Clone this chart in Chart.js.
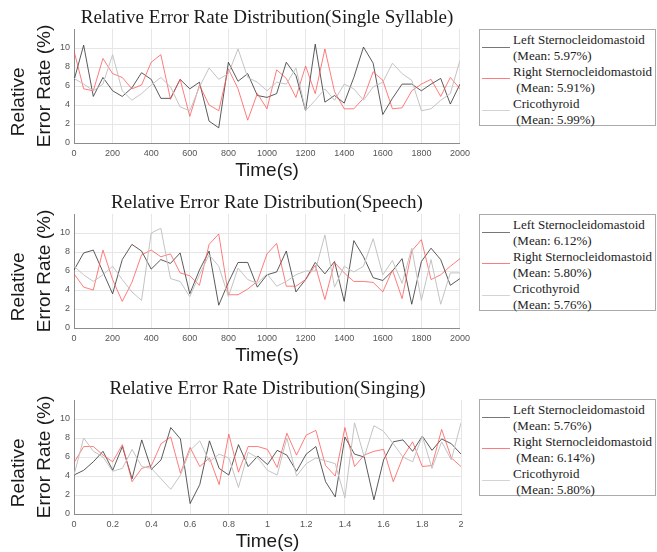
<!DOCTYPE html>
<html><head><meta charset="utf-8">
<script src="https://cdn.jsdelivr.net/npm/chart.js@4.4.1/dist/chart.umd.min.js"></script>
<style>
html,body{margin:0;padding:0;overflow:hidden;background:#fff;width:657px;height:552px;}
canvas{position:absolute;left:0;}
.leg{position:absolute;left:479px;width:175px;height:95px;border:1px solid #aaa;font-family:"Liberation Serif",serif;font-size:13px;color:#222;}
.leg .t{position:absolute;left:33px;white-space:pre;line-height:15.9px;}
.leg .s{position:absolute;left:2px;width:28px;height:0;border-top:1px solid;}
</style></head><body>
<canvas id="c1" width="475" height="185" style="top:0px"></canvas>
<canvas id="c2" width="475" height="185" style="top:185px"></canvas>
<canvas id="c3" width="475" height="185" style="top:371px"></canvas>
<div id="l1" class="leg" style="top:29px"></div>
<div id="l2" class="leg" style="top:214px"></div>
<div id="l3" class="leg" style="top:399px"></div>
<script>
// ---- data ----
const timeSec = [0,50,100,150,200,250,300,350,400,450,500,550,600,650,700,750,800,850,900,950,1000,
  1050,1100,1150,1200,1250,1300,1350,1400,1450,1500,1550,1600,1650,1700,1750,1800,1850,1900,1950,2000];
const timeSing = [0,0.05,0.1,0.15,0.2,0.25,0.3,0.35,0.4,0.45,0.5,0.55,0.6,0.65,0.7,0.75,0.8,0.85,0.9,0.95,1,
  1.05,1.1,1.15,1.2,1.25,1.3,1.35,1.4,1.45,1.5,1.55,1.6,1.65,1.7,1.75,1.8,1.85,1.9,1.95,2];
const yTickValues = [0,2,4,6,8,10];

const seriesNames = ['Left Sternocleidomastoid','Right Sternocleidomastoid','Cricothyroid'];
const titles = ['Relative Error Rate Distribution(Single Syllable)','Relative Error Rate Distribution(Speech)','Relative Error Rate Distribution(Singing)'];

const singleLeft = [6.6,10.3,4.9,6.9,5.5,4.9,5.8,7.4,6.7,4.7,4.7,6.7,5.7,6.4,2.3,1.6,8.5,6.5,7.3,5.0,4.8,
  5.2,8.5,7.1,3.4,10.4,4.3,5.0,4.2,6.9,10.1,8.4,3.0,4.7,6.2,6.2,5.5,6.2,6.8,4.1,6.2];
const singleRight = [9.7,5.7,5.5,8.9,7.3,6.9,5.7,6.1,8.5,9.3,4.6,6.7,2.8,6.1,4.0,3.4,7.8,5.7,2.4,5.2,3.6,
  7.7,6.8,4.8,8.1,5.2,9.9,5.4,3.6,3.6,4.7,7.5,6.6,3.6,3.7,5.5,6.2,6.7,4.9,6.9,5.7];
const singleCrico = [6.8,6.2,5.5,6.2,9.3,5.5,4.5,5.2,6.1,6.9,5.9,3.8,3.4,5.9,7.9,6.7,7.3,9.9,6.9,6.4,5.5,
  6.4,6.2,7.9,3.4,4.5,5.7,4.5,6.2,5.7,4.5,5.9,6.4,8.4,7.3,6.6,3.4,3.6,4.5,5.2,8.7];

const speechLeft = [6.1,7.9,8.2,5.9,3.6,7.2,8.8,8.1,6.2,7.2,6.8,7.9,3.6,6.1,8.1,2.4,4.8,6.9,6.9,4.3,5.6,
  5.9,8.1,3.8,5.1,6.9,5.7,7.0,2.8,9.2,7.5,5.3,5.0,6.0,7.3,2.5,7.0,8.4,7.2,4.5,5.2];
const speechRight = [5.7,4.3,4.0,8.2,5.1,2.8,4.8,7.7,8.2,7.5,7.8,5.8,5.5,4.5,8.8,9.9,3.5,3.5,4.1,4.9,7.8,
  8.9,4.4,4.4,5.1,6.6,3.0,6.9,5.8,4.9,4.9,4.8,3.8,6.1,3.1,8.1,9.3,5.1,5.6,6.5,7.3];
const speechCrico = [6.5,5.6,4.9,5.6,6.5,5.1,3.8,2.9,10.0,10.5,5.2,4.9,3.3,5.6,7.7,6.5,3.3,6.3,5.1,4.7,5.7,
  4.4,4.9,5.6,6.0,6.0,9.8,4.3,6.5,5.9,6.5,9.4,5.6,7.1,4.7,8.4,2.9,7.2,2.5,5.8,5.8];

const singingLeft = [4.1,4.6,5.5,6.6,4.6,7.1,3.7,7.8,4.7,5.7,9.1,7.9,1.1,3.1,7.7,4.8,4.1,7.3,5.0,6.1,5.2,
  6.7,6.2,4.5,6.3,7.1,3.4,1.8,8.1,6.3,6.0,1.5,5.7,7.6,7.8,6.6,8.2,6.7,7.9,7.4,6.3];
const singingRight = [5.4,7.1,7.1,6.2,5.5,7.3,3.4,4.8,5.1,7.4,8.1,4.3,7.0,5.0,5.9,3.1,8.4,4.4,7.1,7.1,6.8,
  4.9,8.5,6.2,8.3,8.8,5.1,4.0,9.1,5.0,6.2,6.6,6.8,3.4,6.0,7.6,5.0,5.1,8.9,5.9,5.0];
const singingCrico = [4.1,8.0,6.6,6.0,4.5,4.8,6.8,5.0,4.8,3.7,2.6,4.1,6.7,7.7,5.5,6.3,5.9,2.8,6.5,5.9,4.6,
  4.1,8.0,4.0,5.3,5.9,5.6,5.3,1.7,9.6,6.0,9.3,8.7,7.4,6.0,5.5,8.2,4.8,7.6,5.7,9.6];

const meansSingle = ['5.97','5.91','5.99'];
const meansSpeech = ['6.12','5.80','5.76'];
const meansSinging = ['5.76','6.14','5.80'];
const meanIndentSingle = [false,true,true];
const meanIndentSpeech = [false,false,false];
const meanIndentSinging = [false,true,true];

// ---- styles ----
const lineColors = ['rgba(50,50,50,0.8)','rgba(255,80,80,0.75)','rgba(195,195,195,1)'];
const swatchColors = ['#777','#ff7b7b','#d3d3d3'];

function pts(xs, ys){ return xs.map((x,i)=>({x:x, y:ys[i]})); }

function makeChart(id, title, xs, series, xMax, xStep){
  new Chart(document.getElementById(id), {
    type:'line',
    data:{ datasets: series.map((s,i)=>({
      label: seriesNames[i], data: pts(xs, s), borderColor: lineColors[i], borderWidth: 1,
      pointRadius: 0, tension: 0, fill: false
    })).reverse() },
    options:{
      responsive:false, animation:false, devicePixelRatio:1,
      layout:{padding:{left:0,right:14,top:0,bottom:0}},
      plugins:{
        legend:{display:false}, tooltip:{enabled:false},
        title:{display:true, text:title, fullSize:false, color:'#1a1a1a',
          font:{family:'Liberation Serif', size:19, weight:'normal', lineHeight:1},
          padding:{top:9,bottom:1}}
      },
      scales:{
        x:{type:'linear', min:0, max:xMax,
          ticks:{stepSize:xStep, autoSkip:false, maxRotation:0, padding:5, color:'#555',
            font:{family:'Liberation Sans', size:9},
            callback:(v)=>String(Math.round(v*100)/100)},
          grid:{color:'#e6e6e6', drawTicks:false},
          border:{color:'#8c8c8c'},
          title:{display:true, text:'Time(s)', color:'#1a1a1a',
            font:{family:'Liberation Sans', size:19, lineHeight:1.2}, padding:{top:0,bottom:2.6}},
          afterFit:(s)=>{ s.height = 42; }
        },
        y:{min:0, max:12,
          afterBuildTicks:(s)=>{ s.ticks = yTickValues.map(v=>({value:v})); },
          ticks:{padding:4, color:'#555',
            font:{family:'Liberation Sans', size:9},
            callback:(v)=>String(v)},
          grid:{color:'#e6e6e6', drawTicks:false},
          border:{color:'#8c8c8c'},
          title:{display:true, text:['Relative      ','Error Rate (%)'], color:'#1a1a1a',
            font:{family:'Liberation Sans', size:19, lineHeight:1.37}, padding:{top:6,bottom:0}},
          afterFit:(s)=>{ s.width = 74; }
        }
      }
    }
  });
}

function makeLegend(id, means, indents){
  const el = document.getElementById(id);
  let html = '';
  for (let i=0;i<3;i++){
    const top0 = 2 + i*2*15.9;
    html += '<div class="t" style="top:'+top0+'px">'+seriesNames[i]+'</div>';
    html += '<div class="t" style="top:'+(top0+15.9)+'px">'+(indents[i]?' ':'')+'(Mean: '+means[i]+'%)</div>';
    html += '<div class="s" style="top:'+(top0+14.5)+'px;border-top-color:'+swatchColors[i]+'"></div>';
  }
  el.innerHTML = html;
}

makeChart('c1', titles[0], timeSec, [singleLeft, singleRight, singleCrico], 2000, 200);
makeChart('c2', titles[1], timeSec, [speechLeft, speechRight, speechCrico], 2000, 200);
makeChart('c3', titles[2], timeSing, [singingLeft, singingRight, singingCrico], 2, 0.2);
makeLegend('l1', meansSingle, meanIndentSingle);
makeLegend('l2', meansSpeech, meanIndentSpeech);
makeLegend('l3', meansSinging, meanIndentSinging);
</script>
</body></html>
